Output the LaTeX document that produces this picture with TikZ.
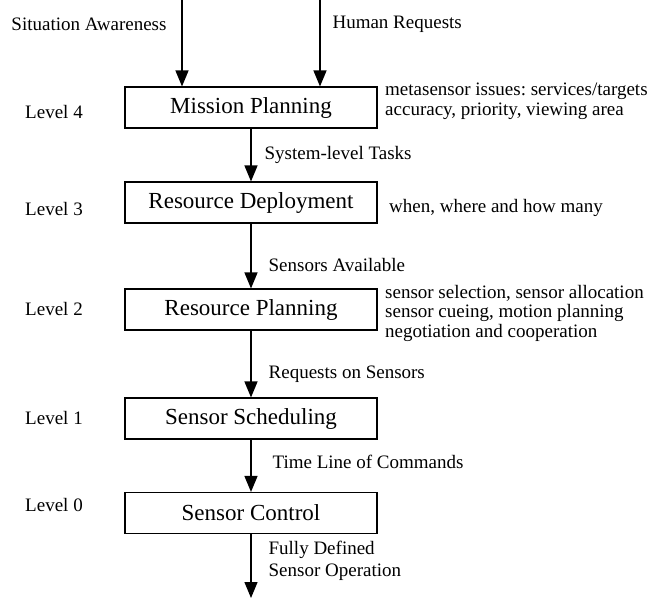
\documentclass[tikz,border=0pt]{standalone}
\usepackage{fontspec}
\setmainfont{Liberation Serif}
\usepackage{tikz}
\usetikzlibrary{arrows.meta}
\frenchspacing
\tikzstyle{levelbox} = [rectangle, minimum width=252pt, minimum height=41pt, text centered, draw=black, line width=1.1pt, font=\fontsize{23}{26}\selectfont]
\tikzstyle{note} = [anchor=west, align=left, inner sep=0pt, font=\fontsize{19}{19.5}\selectfont]
\tikzstyle{level} = [font=\fontsize{19}{19.5}\selectfont]
\tikzstyle{flow} = [anchor=west, align=left, inner sep=0pt, font=\fontsize{19}{22}\selectfont]
\tikzstyle{arrow} = [line width=1.3pt, -{Triangle[length=16pt,width=13pt]}]

\begin{document}
\begin{tikzpicture}[x=1pt, y=1pt, node distance=100pt]
        \useasboundingbox (0,0) rectangle (657,-598);
        \node (mission) [levelbox] at (251,-107.5) {Mission Planning};
        \node (deploy) [levelbox, below of=mission, yshift=5pt] {Resource Deployment};
        \node (planning) [levelbox, below of=deploy, yshift=-7pt] {Resource Planning};
        \node (sched) [levelbox, below of=planning, yshift=-9pt] {Sensor Scheduling};
        \node (control) [levelbox, below of=sched, yshift=5.5pt] {Sensor Control};
        % inputs at the top
        \coordinate (sain) at (182,0);
        \coordinate (hrin) at (320,0);
        \coordinate (out) at (251,-598);
        \node (sa) [level, anchor=east] at (170,-24) {Situation Awareness};
        \node (hr) [level, anchor=west] at (329,-24) {Human Requests};
        \draw [arrow] (sain) -- (sain |- mission.north);
        \draw [arrow] (hrin) -- (hrin |- mission.north);
        % levels
        \node (lv4) [level] at (54,-112) {Level 4};
        \node (lv3) [level] at (54,-209) {Level 3};
        \node (lv2) [level] at (54,-309) {Level 2};
        \node (lv1) [level] at (54,-418) {Level 1};
        \node (lv0) [level] at (54,-505) {Level 0};
        % notes on the right
        \node (n4) [note] at (385,-101.5) {metasensor issues: services/targets\\accuracy, priority, viewing area};
        \node (n3) [note] at (389,-208) {when, where and how many};
        \node (n2) [note] at (385,-313) {sensor selection, sensor allocation\\sensor cueing, motion planning\\negotiation and cooperation};
        \draw [arrow] (mission) -- node[flow, pos=0.5, xshift=13pt] (f1) {System-level Tasks} (deploy);
        \draw [arrow] (deploy) -- node[flow, pos=0.64, xshift=17pt] (f2) {Sensors Available} (planning);
        \draw [arrow] (planning) -- node[flow, pos=0.66, xshift=17pt] (f3) {Requests on Sensors} (sched);
        \draw [arrow] (sched) -- node[flow, pos=0.43, xshift=21pt] (f4) {Time Line of Commands} (control);
        \draw [arrow] (control) -- node[flow, pos=0.42, xshift=17pt] (f5) {Fully Defined\\Sensor Operation} (out);
\end{tikzpicture}
\end{document}
